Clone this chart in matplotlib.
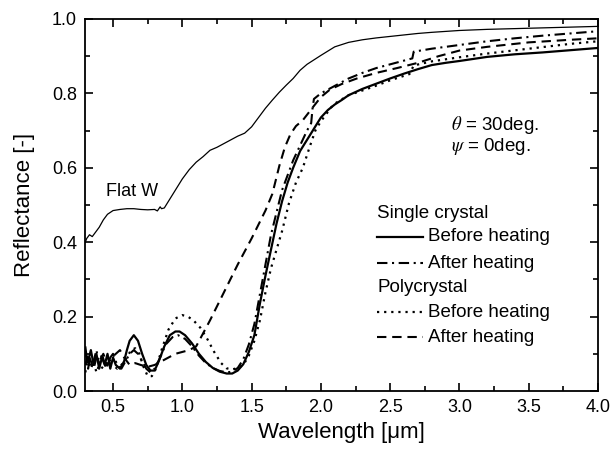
import matplotlib
matplotlib.use("Agg")
import matplotlib.pyplot as plt
from matplotlib.ticker import MultipleLocator, FormatStrFormatter

plt.rcParams["font.family"] = ["Liberation Sans", "DejaVu Sans"]
plt.rcParams["mathtext.fontset"] = "stix"

# Flat W (thin solid)
flat_wl = [0.30, 0.31, 0.33, 0.35, 0.37, 0.40, 0.43, 0.46, 0.50, 0.55, 0.60, 0.65, 0.70,
           0.75, 0.80, 0.82, 0.84, 0.85, 0.87, 0.90, 0.95, 1.00, 1.05, 1.10, 1.15, 1.20,
           1.25, 1.30, 1.35, 1.40, 1.45, 1.50, 1.55, 1.60, 1.65, 1.70, 1.75, 1.80, 1.85,
           1.90, 2.00, 2.10, 2.20, 2.30, 2.40, 2.50, 2.60, 2.70, 2.80, 3.00, 3.20, 3.40,
           3.60, 3.80, 4.00]
flat_r = [0.400, 0.410, 0.420, 0.415, 0.425, 0.440, 0.460, 0.475, 0.485, 0.488, 0.490, 0.490,
          0.488, 0.487, 0.488, 0.484, 0.495, 0.490, 0.492, 0.510, 0.540, 0.570, 0.595, 0.615,
          0.630, 0.647, 0.655, 0.665, 0.675, 0.685, 0.693, 0.710, 0.735, 0.760, 0.782, 0.803,
          0.822, 0.840, 0.862, 0.878, 0.902, 0.925, 0.937, 0.944, 0.949, 0.953, 0.957, 0.961,
          0.964, 0.969, 0.972, 0.974, 0.976, 0.978, 0.980]

# Single crystal, before heating (thick solid)
scb_wl = [0.30, 0.32, 0.34, 0.36, 0.38, 0.40, 0.42, 0.44, 0.46, 0.48, 0.50, 0.52, 0.55,
          0.58, 0.60, 0.62, 0.65, 0.68, 0.71, 0.74, 0.77, 0.80, 0.83, 0.87, 0.91, 0.95,
          0.98, 1.02, 1.07, 1.12, 1.17, 1.22, 1.27, 1.32, 1.36, 1.40, 1.44, 1.48, 1.52,
          1.56, 1.60, 1.64, 1.68, 1.72, 1.76, 1.80, 1.85, 1.90, 1.95, 2.00, 2.05, 2.10,
          2.15, 2.20, 2.30, 2.40, 2.50, 2.60, 2.70, 2.80, 2.90, 3.00, 3.20, 3.40, 3.60,
          3.80, 4.00]
scb_r = [0.100, 0.080, 0.110, 0.070, 0.100, 0.060, 0.090, 0.070, 0.100, 0.060, 0.090, 0.070,
         0.060, 0.080, 0.110, 0.135, 0.150, 0.135, 0.100, 0.070, 0.055, 0.055, 0.080, 0.120,
         0.150, 0.160, 0.160, 0.150, 0.128, 0.100, 0.078, 0.062, 0.052, 0.047, 0.047, 0.055,
         0.072, 0.105, 0.150, 0.235, 0.310, 0.380, 0.450, 0.510, 0.560, 0.600, 0.645, 0.675,
         0.705, 0.735, 0.755, 0.770, 0.782, 0.795, 0.812, 0.826, 0.840, 0.853, 0.865, 0.876,
         0.882, 0.887, 0.898, 0.905, 0.910, 0.916, 0.922]

# Single crystal, after heating (dash-dot)
sca_wl = [0.30, 0.32, 0.34, 0.36, 0.38, 0.40, 0.42, 0.45, 0.48, 0.50, 0.53, 0.56, 0.59,
          0.62, 0.65, 0.68, 0.71, 0.74, 0.77, 0.80, 0.84, 0.88, 0.93, 0.97, 1.02, 1.07,
          1.12, 1.17, 1.22, 1.27, 1.32, 1.36, 1.40, 1.44, 1.48, 1.52, 1.56, 1.60, 1.64,
          1.68, 1.72, 1.76, 1.80, 1.85, 1.90, 1.93, 1.94, 1.95, 2.00, 2.10, 2.20, 2.30,
          2.40, 2.50, 2.60, 2.66, 2.67, 2.80, 3.00, 3.20, 3.40, 3.60, 3.80, 4.00]
sca_r = [0.120, 0.060, 0.100, 0.080, 0.110, 0.070, 0.100, 0.060, 0.090, 0.100, 0.070, 0.060,
         0.080, 0.100, 0.110, 0.100, 0.080, 0.060, 0.050, 0.060, 0.090, 0.125, 0.145, 0.150,
         0.140, 0.120, 0.095, 0.075, 0.062, 0.054, 0.050, 0.052, 0.062, 0.085, 0.125, 0.180,
         0.260, 0.340, 0.420, 0.480, 0.540, 0.580, 0.620, 0.660, 0.700, 0.720, 0.760, 0.785,
         0.800, 0.820, 0.840, 0.855, 0.868, 0.878, 0.888, 0.894, 0.912, 0.920, 0.930, 0.940,
         0.948, 0.955, 0.961, 0.967]

# Polycrystal, before heating (dotted)
pcb_wl = [0.30, 0.32, 0.34, 0.36, 0.38, 0.40, 0.43, 0.46, 0.50, 0.53, 0.56, 0.60, 0.63,
          0.66, 0.69, 0.72, 0.75, 0.78, 0.81, 0.85, 0.90, 0.95, 1.00, 1.04, 1.08, 1.13,
          1.18, 1.23, 1.28, 1.32, 1.36, 1.40, 1.44, 1.48, 1.52, 1.56, 1.60, 1.64, 1.68,
          1.72, 1.77, 1.82, 1.87, 1.92, 1.96, 2.00, 2.09, 2.20, 2.38, 2.50, 2.64, 2.67,
          2.80, 3.00, 3.20, 3.50, 3.80, 4.00]
pcb_r = [0.050, 0.090, 0.060, 0.080, 0.050, 0.070, 0.060, 0.080, 0.070, 0.060, 0.070, 0.090,
         0.110, 0.115, 0.100, 0.065, 0.040, 0.040, 0.060, 0.110, 0.165, 0.195, 0.204, 0.200,
         0.190, 0.170, 0.140, 0.105, 0.075, 0.061, 0.058, 0.062, 0.070, 0.095, 0.135, 0.190,
         0.265, 0.330, 0.380, 0.430, 0.505, 0.560, 0.600, 0.657, 0.700, 0.725, 0.770, 0.795,
         0.818, 0.835, 0.852, 0.875, 0.886, 0.897, 0.907, 0.920, 0.933, 0.940]

# Polycrystal, after heating (dashed)
pca_wl = [0.30, 0.32, 0.34, 0.36, 0.38, 0.40, 0.43, 0.46, 0.49, 0.52, 0.55, 0.58, 0.62,
          0.66, 0.70, 0.75, 0.80, 0.85, 0.90, 0.95, 1.00, 1.05, 1.10, 1.20, 1.30, 1.40,
          1.50, 1.60, 1.65, 1.70, 1.74, 1.78, 1.82, 1.87, 1.945, 2.00, 2.065, 2.15, 2.26,
          2.40, 2.55, 2.70, 2.85, 3.00, 3.20, 3.50, 3.80, 4.00]
pca_r = [0.070, 0.100, 0.080, 0.060, 0.090, 0.080, 0.100, 0.070, 0.090, 0.100, 0.110, 0.090,
         0.070, 0.075, 0.070, 0.065, 0.070, 0.080, 0.090, 0.100, 0.105, 0.110, 0.120, 0.190,
         0.265, 0.340, 0.410, 0.485, 0.530, 0.605, 0.655, 0.690, 0.712, 0.728, 0.764, 0.790,
         0.810, 0.825, 0.840, 0.855, 0.868, 0.882, 0.900, 0.915, 0.925, 0.937, 0.944, 0.948]

legend_groups = ["Single crystal", "Polycrystal"]
legend_labels = ["Before heating", "After heating", "Before heating", "After heating"]

styles = {
    "scb": dict(color="black", lw=1.6, ls="-"),
    "sca": dict(color="black", lw=1.5, ls=(0, (5, 2.2, 1, 2.2))),
    "pcb": dict(color="black", lw=1.6, ls=(0, (1, 2.2))),
    "pca": dict(color="black", lw=1.5, ls=(0, (4.5, 2.8))),
}

fig = plt.figure(figsize=(6.13, 4.51), dpi=100)
ax = fig.add_axes([0.1392, 0.133, 0.8363, 0.825])

ax.plot(flat_wl, flat_r, color="black", lw=0.9)
ax.plot(pca_wl, pca_r, **styles["pca"])
ax.plot(pcb_wl, pcb_r, **styles["pcb"])
ax.plot(sca_wl, sca_r, **styles["sca"])
ax.plot(scb_wl, scb_r, **styles["scb"])

ax.set_xlim(0.3, 4.0)
ax.set_ylim(0.0, 1.0)
ax.xaxis.set_major_locator(MultipleLocator(0.5))
ax.xaxis.set_minor_locator(MultipleLocator(0.25))
ax.yaxis.set_major_locator(MultipleLocator(0.2))
ax.yaxis.set_minor_locator(MultipleLocator(0.1))
ax.xaxis.set_major_formatter(FormatStrFormatter("%.1f"))
ax.yaxis.set_major_formatter(FormatStrFormatter("%.1f"))
ax.tick_params(which="both", direction="in", top=True, right=True, width=1.2, labelsize=13)
ax.tick_params(which="major", length=5.5, pad=6)
ax.tick_params(which="minor", length=3.5)
for sp in ax.spines.values():
    sp.set_linewidth(1.3)

ax.set_xlabel("Wavelength [\u03bcm]", fontsize=16, labelpad=4)
ax.set_ylabel("Reflectance [-]", fontsize=16, labelpad=12)

ax.text(0.45, 0.536, "Flat W", fontsize=13, va="center")
ax.text(0.713, 0.715, r"$\theta$ = 30deg.", fontsize=13.5, va="center", transform=ax.transAxes)
ax.text(0.713, 0.656, r"$\psi$ = 0deg.", fontsize=13.5, va="center", transform=ax.transAxes)

# hand-made legend with group headers
rows_y = [0.478, 0.414, 0.344, 0.277, 0.212, 0.145]
ax.text(0.569, rows_y[0], legend_groups[0], fontsize=13.5, va="center", transform=ax.transAxes)
ax.text(0.569, rows_y[3], legend_groups[1], fontsize=13.5, va="center", transform=ax.transAxes)
keys = ["scb", "sca", "pcb", "pca"]
for key, label, y in zip(keys, legend_labels, [rows_y[1], rows_y[2], rows_y[4], rows_y[5]]):
    ax.plot([0.569, 0.659], [y, y], transform=ax.transAxes, **styles[key])
    ax.text(0.668, y, label, fontsize=13.5, va="center", transform=ax.transAxes)

fig.savefig("out.png", dpi=100)
